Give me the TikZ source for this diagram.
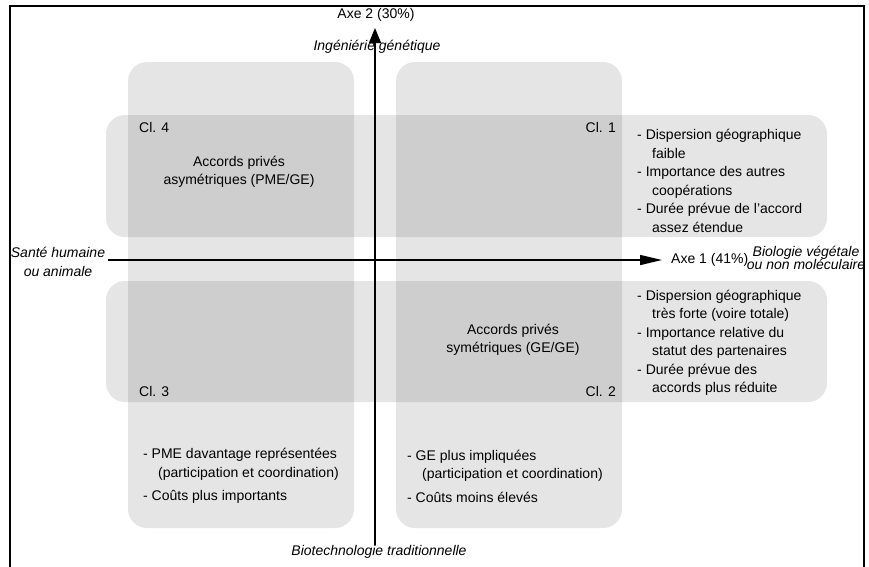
\documentclass[tikz,border=0pt]{standalone}
\usepackage{fontspec}
\setmainfont{Liberation Sans}
\usetikzlibrary{arrows.meta,positioning}
\newcommand{\contline}{\hspace*{15pt}}
\newcommand{\tightlines}{\lineskiplimit=-20pt\relax}
\tikzset{
    %Define style for the grey zones
    zone/.style={
           fill=black,
           fill opacity=0.1,
           rounded corners=19pt},
    %Define style for texts
    txt/.style={
           font=\fontsize{14}{18.5}\selectfont,
           inner sep=0pt},
    axlabel/.style={
           txt,
           font=\fontsize{14}{18.5}\selectfont\itshape,
           align=center},
    % Define axis style
    axis/.style={
           line width=1.5pt},
    frame/.style={
           line width=2pt}
}

\begin{document}
\begin{tikzpicture}[x=1pt,y=-1pt]
\useasboundingbox (0,0) rectangle (869,566);
\draw[frame] (10,6) rectangle (864,580);
% grey zones of the four classes
\path[zone] (128,62) rectangle (354,528);
\path[zone] (396,62) rectangle (622,528);
\path[zone] (106,115) rectangle (827,237);
\path[zone] (106,281) rectangle (827,402);
% axes
\coordinate (h0) at (108,260);
\coordinate (h1) at (662,260);
\coordinate (v0) at (375,545);
\coordinate (v1) at (375,28);
\draw[axis, -{Triangle[length=22pt,width=10pt]}] (h0) -- (h1);
\draw[axis, -{Triangle[length=15pt,width=12pt]}] (v0) -- (v1);
\node[txt] (axe2) at (376,15) {Axe 2 (30\%)};
\node[txt, right=9pt of h1] (axe1) {Axe 1 (41\%)};
\node[axlabel] (gen) at (377,47) {Ingéniérie génétique};
\node[axlabel] (trad) at (379,552) {Biotechnologie traditionnelle};
\node[axlabel] (sante) at (58,262) {Santé humaine\\ou animale};
\node[axlabel, font=\fontsize{14}{13.5}\selectfont\itshape\tightlines] (bio) at (806,258) {Biologie végétale\\ou non moléculaire};
% classes
\node[txt, anchor=west] (cl4) at (139,127) {Cl. 4};
\node[txt, anchor=east] (cl1) at (616,127) {Cl. 1};
\node[txt, anchor=west] (cl3) at (139,391) {Cl. 3};
\node[txt, anchor=east] (cl2) at (616,391) {Cl. 2};
\node[txt, align=center] (asym) at (239,172) {Accords privés\\asymétriques (PME/GE)};
\node[txt, align=center] (sym) at (513,340) {Accords privés\\symétriques (GE/GE)};
\node[txt, align=left, anchor=west] (list1) at (637,181) {- Dispersion géographique\\\contline faible\\- Importance des autres\\\contline coopérations\\- Durée prévue de l’accord\\\contline assez étendue};
\node[txt, align=left, anchor=west] (list2) at (637,343) {- Dispersion géographique\\\contline très forte (voire totale)\\- Importance relative du\\\contline statut des partenaires\\- Durée prévue des\\\contline accords plus réduite};
\node[txt, align=left, anchor=west] (list3) at (143,476) {- PME davantage représentées\\\contline (participation et coordination)\\[5pt]- Coûts plus importants};
\node[txt, align=left, anchor=west] (list2b) at (407,476) {- GE plus impliquées\\\contline (participation et coordination)\\[5pt]- Coûts moins élevés};
\end{tikzpicture}
\end{document}
